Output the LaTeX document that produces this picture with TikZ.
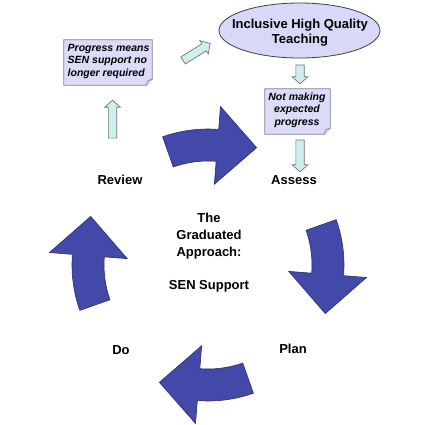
\documentclass[tikz,border=0pt]{standalone}
\usepackage{fontspec}
\setmainfont{Liberation Sans}
\usetikzlibrary{shapes.geometric,shapes.arrows,calc}
\definecolor{bigblue}{HTML}{4349A9}
\definecolor{bigedge}{HTML}{2A2E6E}
\definecolor{pale}{HTML}{D0EEEC}
\definecolor{paleedge}{HTML}{6E7676}
\definecolor{notefill}{HTML}{DCDCF8}
\definecolor{noteedge}{HTML}{7E7E9E}
\definecolor{ellfill}{HTML}{D8D8F8}
\tikzset{
  lbl/.style={font=\fontsize{13}{17}\selectfont\bfseries, inner sep=0pt},
  notetext/.style={font=\fontsize{10.5}{12.5}\selectfont\bfseries\itshape, inner sep=0pt},
  noteshape/.style={fill=notefill, draw=noteedge, line width=0.8pt},
  bigarr/.style={fill=bigblue, draw=bigedge, line width=0.6pt, line join=miter},
  blockarr/.style={single arrow, fill=pale, draw=paleedge, line width=0.7pt,
    inner sep=3.8pt, single arrow head extend=3.7pt, single arrow tip angle=95},
}
\begin{document}
\begin{tikzpicture}[x=1pt,y=-1pt]
\useasboundingbox (0,0) rectangle (442,424);
\fill[white] (0,0) rectangle (442,424);

% ellipse
\coordinate (ellc) at (299.5,30.5);
\draw[draw=black!75, fill=ellfill, line width=0.8pt] (ellc) ellipse [x radius=80.5pt, y radius=27.5pt];
\node[align=center, inner sep=0pt, font=\fontsize{13}{15}\selectfont\bfseries] (iqt) at (300,33) {Inclusive High Quality\\Teaching};

% notes
\node[minimum width=88pt, minimum height=45pt, inner sep=0pt] (prog) at (108,62.5) {};
\draw[noteshape] (prog.north west) -- (prog.north east) -- ([yshift=6pt]prog.south east)
  -- ([xshift=-6pt]prog.south east) -- (prog.south west) -- cycle;
\draw[noteshape, line width=0.6pt] ([yshift=6pt]prog.south east) -- ([xshift=-4.5pt,yshift=4.5pt]prog.south east) -- ([xshift=-6pt]prog.south east);
\node[notetext, align=left, anchor=west] (progt) at (67.5,61) {Progress means\\SEN support no\\longer required};

\node[minimum width=65pt, minimum height=45pt, inner sep=0pt] (notm) at (297.5,111.5) {};
\draw[noteshape] (notm.north west) -- (notm.north east) -- ([yshift=6pt]notm.south east)
  -- ([xshift=-6pt]notm.south east) -- (notm.south west) -- cycle;
\draw[noteshape, line width=0.6pt] ([yshift=6pt]notm.south east) -- ([xshift=-4.5pt,yshift=4.5pt]notm.south east) -- ([xshift=-6pt]notm.south east);
\node[notetext, align=center] (notmt) at (297,110) {Not making\\expected\\progress};

% labels
\node[lbl] (review) at (120,180) {Review};
\node[lbl] (assess) at (294,180) {Assess};
\node[lbl] (do) at (121,350) {Do};
\node[lbl] (plan) at (293,349) {Plan};
\node[lbl, align=center] (centre) at (209,253) {The\\Graduated\\Approach:\\[16pt]SEN Support};

% small block arrows
\node[blockarr, minimum height=19pt, rotate=-90] (a1) at (300,72.5) {};
\node[blockarr, minimum height=32pt, rotate=-90] (a2) at (300,154) {};
\node[blockarr, minimum height=38pt, rotate=90] (a3) at (112.5,121) {};
\node[blockarr, minimum height=32pt, rotate=32] (a4) at (195,53) {};

% big circular arrows
\foreach \s in {109.5,19.5,-70.5,-160.5}{
  \pgfmathsetmacro\h{\s-24}
  \pgfmathsetmacro\t{\s-42}
  \draw[bigarr] plot[domain=\s:\h, samples=14] ({208+136*cos(\x)},{265-136*sin(\x)})
    -- ({208+159*cos(\h)},{265-159*sin(\h)})
    -- ({208+127*cos(\t)},{265-127*sin(\t)})
    -- ({208+81*cos(\h)},{265-81*sin(\h)})
    -- plot[domain=\h:\s, samples=14] ({208+104*cos(\x)},{265-104*sin(\x)})
    -- cycle;
}
\end{tikzpicture}
\end{document}
